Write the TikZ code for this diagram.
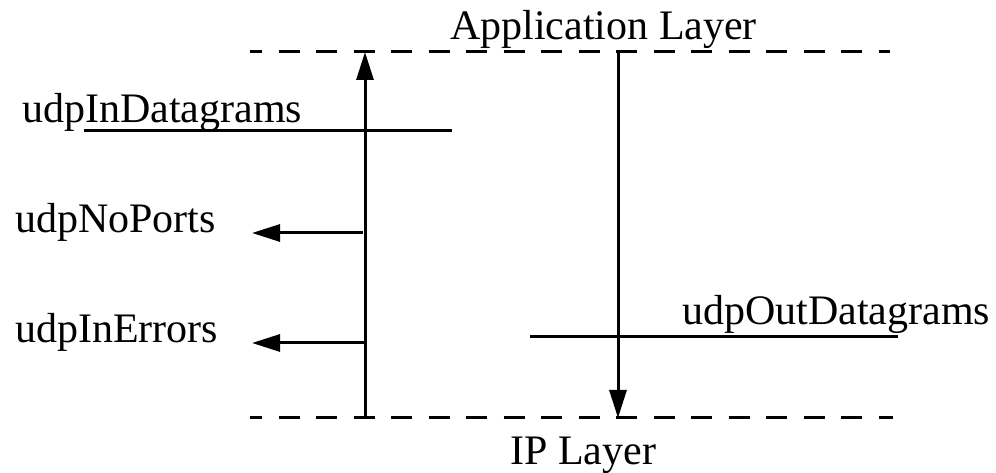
\documentclass[tikz,border=0pt]{standalone}
\usepackage{fontspec}
\setmainfont{Liberation Serif}
\usetikzlibrary{arrows.meta}
\begin{document}
\begin{tikzpicture}[x=1pt,y=1pt,
  lbl/.style={anchor=base west,inner sep=0pt,font=\fontsize{42}{50}\selectfont},
  solidln/.style={line width=3pt},
  layerln/.style={line width=3pt,dash pattern=on 21pt off 16.5pt,dash phase=9pt},
  flow/.style={line width=3pt,-{Triangle[length=28pt,width=17pt]}}]
\useasboundingbox (0,0) rectangle (996,473);
% text
\node[lbl] (app) at (450,433) {Application Layer};
\node[lbl] (ip) at (510,8) {IP Layer};
\node[lbl] (indg) at (22,350) {udpInDatagrams};
\node[lbl] (noports) at (15,240) {udpNoPorts};
\node[lbl] (inerr) at (15,130) {udpInErrors};
\node[lbl] (outdg) at (682,148) {udpOutDatagrams};
% coordinates
\coordinate (topL) at (250,421);
\coordinate (topR) at (890,421);
\coordinate (botL) at (250,55);
\coordinate (botR) at (893,55);
\coordinate (upB) at (365,55);
\coordinate (upT) at (365,421);
\coordinate (dnT) at (618,421);
\coordinate (dnB) at (618,55);
\coordinate (inL) at (84,342);
\coordinate (inR) at (452,342);
\coordinate (npS) at (363,240);
\coordinate (npE) at (252,240);
\coordinate (ieS) at (365,130);
\coordinate (ieE) at (252,130);
\coordinate (outL) at (530,136);
\coordinate (outR) at (898,136);
% layer lines
\draw[layerln] (topL) -- (topR);
\draw[layerln] (botL) -- (botR);
% flows
\draw[flow] (upB) -- (upT);
\draw[flow] (dnT) -- (dnB);
\draw[flow] (npS) -- (npE);
\draw[flow] (ieS) -- (ieE);
% counter lines
\draw[solidln] (inL) -- (inR);
\draw[solidln] (outL) -- (outR);
\end{tikzpicture}
\end{document}
